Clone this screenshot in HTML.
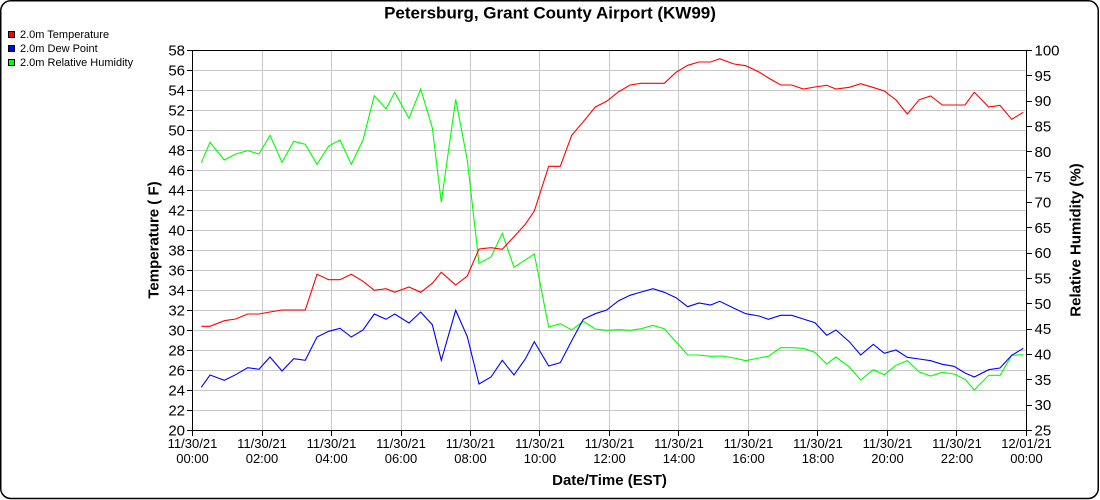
<!DOCTYPE html>
<html><head><meta charset="utf-8"><style>
html,body{margin:0;padding:0;background:#fff;}
svg{display:block;}
text{font-family:"Liberation Sans",Arial,sans-serif;fill:#000;}
</style></head><body>
<svg width="1100" height="500" viewBox="0 0 1100 500" xmlns="http://www.w3.org/2000/svg">
<rect x="0.75" y="0.75" width="1097.5" height="497.75" rx="10" ry="10" fill="#fff" stroke="#000" stroke-width="1.5"/>
<text x="550" y="18.5" font-size="17" font-weight="bold" text-anchor="middle">Petersburg, Grant County Airport (KW99)</text>
<!-- legend -->
<rect x="8.5" y="31.5" width="6" height="6" fill="#ff0000" stroke="#000" stroke-width="1"/>
<rect x="8.5" y="45.5" width="6" height="6" fill="#0000ff" stroke="#000" stroke-width="1"/>
<rect x="8.5" y="59.5" width="6" height="6" fill="#00ff00" stroke="#000" stroke-width="1"/>
<text x="20" y="38" font-size="11">2.0m Temperature</text>
<text x="20" y="52" font-size="11">2.0m Dew Point</text>
<text x="20" y="66" font-size="11">2.0m Relative Humidity</text>
<!-- grid -->
<g stroke="#c8c8c8" stroke-width="1">
<path d="M192.5 70.5H1026.5M192.5 90.5H1026.5M192.5 110.5H1026.5M192.5 130.5H1026.5M192.5 150.5H1026.5M192.5 170.5H1026.5M192.5 190.5H1026.5M192.5 210.5H1026.5M192.5 230.5H1026.5M192.5 250.5H1026.5M192.5 270.5H1026.5M192.5 290.5H1026.5M192.5 310.5H1026.5M192.5 330.5H1026.5M192.5 350.5H1026.5M192.5 370.5H1026.5M192.5 390.5H1026.5M192.5 410.5H1026.5"/>
<path d="M262.5 50.5V430.5M331.5 50.5V430.5M401.5 50.5V430.5M470.5 50.5V430.5M539.5 50.5V430.5M609.5 50.5V430.5M678.5 50.5V430.5M748.5 50.5V430.5M817.5 50.5V430.5M887.5 50.5V430.5M956.5 50.5V430.5"/>
</g>
<!-- series -->
<g fill="none" stroke-width="1.1" stroke-linejoin="miter">
<polyline stroke="#00ff00" points="201.3,162.7 210,142.3 224.3,160 235.7,154 247.7,150.7 259,154 270,135.3 282,162.3 293.7,141.3 305.3,144.3 317,164.3 328.7,146 340,140 351.3,164.3 363,140 374.3,95.7 386,109 394.7,92.3 409,118.3 420.7,89 432.3,127.7 441.3,202.3 455.7,99.3 467.3,160 479,263.3 491,257 502.3,233.3 514,267.3 534.3,254 548.7,327 560.3,323.7 571.7,330 583.3,321.3 595.3,329 606.7,330.3 618.3,329.7 630,330.3 641.3,328.7 653,325.3 664.3,328.7 687.7,355 699,355 710.7,356.3 722.3,356 734,358 745.7,360.7 759,358 768.3,356.3 780.7,347.7 791.7,347.7 803.3,348.3 815,352.3 826.7,364 836,357 849.3,367 860.7,380 873.3,369.7 884.3,374.7 896,365.3 907.3,360.7 919.3,372 930.7,376 942.3,372.3 954,374 965,379.3 974.3,390 988.7,375.3 1000,375.3 1011.7,355.3 1023.3,354.7"/>
<polyline stroke="#0000ff" points="201.3,387.3 210,375 224.3,380.3 235.7,374.7 247.7,367.7 259,369.3 270,357 282,371 293.7,358.7 305.3,360.3 317,337 328.7,331.3 340,328.3 351.3,337 363,330 374.3,314 386,319.3 394.7,314 409,323 420.7,312 432.3,324.7 441.3,360.3 455.7,310.3 467.3,336.7 479,384 491,377 502.3,360.3 514,375 525.3,359 534.3,341.7 548.7,366 560.3,362.7 571.7,340.7 583.3,319.3 595.3,313.7 606.7,310 618.3,301 630,295.3 641.3,292 653,288.7 664.3,292.3 676,297.7 687.7,306.7 699,303 710.7,305 719.7,301.3 734,308.3 745.7,313.7 759,316 768.3,319.3 780.7,315.3 791.7,315.3 803.3,319 815,322.7 826.7,335.3 836,330 849.3,341.7 860.7,355 873.3,344.3 884.3,353.3 896,350 907.3,357.3 919.3,359 930.7,360.7 942.3,364.3 954,366.3 965,373 974.3,377 988.7,369.7 1000,368 1011.7,355.3 1023.3,348.3"/>
<polyline stroke="#ff0000" points="201.3,326.3 210,326.3 224.3,320.7 235.7,319 247.7,314 259,314 270,312 282,310 293.7,310 305.3,310 317,274.3 328.7,279.7 340,279.7 351.3,274.3 363,281.3 374.3,290.3 386,288.7 394.7,292.3 409,287 420.7,292.3 432.3,283.3 441.3,272.3 455.7,285 467.3,276 479,249 491,247.7 502.3,249.3 514,236.7 525.3,224.3 534.3,211 548.7,166.3 560.3,166.3 571.7,135.3 583.3,121.7 595.3,107 606.7,101.3 618.3,92 630,85 641.3,83.3 653,83.3 664.3,83.3 676,72.3 687.7,65.3 699,62 710.7,62 719.7,58.7 734,64 745.7,65.7 759,72 768.5,78 780.7,85 791.7,85 803.3,89 815,87 826.7,85.3 836,89 849.3,87.3 860.7,83.7 872.7,87.3 884.3,91 896,100 907.3,114 919.3,99.7 930.7,96 942.3,105 954,105 965,105 974.3,92.3 988.7,107 1000,105.3 1011.7,119.3 1023.3,112.3"/>
</g>
<!-- axes -->
<g stroke="#000" stroke-width="1" fill="none">
<rect x="192.5" y="50.5" width="834" height="380"/>
<path d="M187 50.5H192.5M187 70.5H192.5M187 90.5H192.5M187 110.5H192.5M187 130.5H192.5M187 150.5H192.5M187 170.5H192.5M187 190.5H192.5M187 210.5H192.5M187 230.5H192.5M187 250.5H192.5M187 270.5H192.5M187 290.5H192.5M187 310.5H192.5M187 330.5H192.5M187 350.5H192.5M187 370.5H192.5M187 390.5H192.5M187 410.5H192.5M187 430.5H192.5"/>
<path d="M1026.5 50.5H1032M1026.5 75.5H1032M1026.5 101.5H1032M1026.5 126.5H1032M1026.5 151.5H1032M1026.5 177.5H1032M1026.5 202.5H1032M1026.5 227.5H1032M1026.5 253.5H1032M1026.5 278.5H1032M1026.5 303.5H1032M1026.5 329.5H1032M1026.5 354.5H1032M1026.5 379.5H1032M1026.5 405.5H1032M1026.5 430.5H1032"/>
<path d="M192.5 430.5V436M262.5 430.5V436M331.5 430.5V436M401.5 430.5V436M470.5 430.5V436M539.5 430.5V436M609.5 430.5V436M678.5 430.5V436M748.5 430.5V436M817.5 430.5V436M887.5 430.5V436M956.5 430.5V436M1026.5 430.5V436"/>
</g>
<!-- left labels -->
<g font-size="15" text-anchor="end">
<text x="185" y="55.5">58</text><text x="185" y="75.5">56</text><text x="185" y="95.5">54</text><text x="185" y="115.5">52</text><text x="185" y="135.5">50</text><text x="185" y="155.5">48</text><text x="185" y="175.5">46</text><text x="185" y="195.5">44</text><text x="185" y="215.5">42</text><text x="185" y="235.5">40</text><text x="185" y="255.5">38</text><text x="185" y="275.5">36</text><text x="185" y="295.5">34</text><text x="185" y="315.5">32</text><text x="185" y="335.5">30</text><text x="185" y="355.5">28</text><text x="185" y="375.5">26</text><text x="185" y="395.5">24</text><text x="185" y="415.5">22</text><text x="185" y="435.5">20</text>
</g>
<!-- right labels -->
<g font-size="15" text-anchor="start">
<text x="1034.5" y="55.5">100</text><text x="1034.5" y="80.8">95</text><text x="1034.5" y="106.2">90</text><text x="1034.5" y="131.5">85</text><text x="1034.5" y="156.8">80</text><text x="1034.5" y="182.2">75</text><text x="1034.5" y="207.5">70</text><text x="1034.5" y="232.8">65</text><text x="1034.5" y="258.2">60</text><text x="1034.5" y="283.5">55</text><text x="1034.5" y="308.8">50</text><text x="1034.5" y="334.2">45</text><text x="1034.5" y="359.5">40</text><text x="1034.5" y="384.8">35</text><text x="1034.5" y="410.2">30</text><text x="1034.5" y="435.5">25</text>
</g>
<!-- x labels -->
<g font-size="13" text-anchor="middle">
<text x="192.5" y="448">11/30/21</text><text x="192.5" y="463">00:00</text>
<text x="262" y="448">11/30/21</text><text x="262" y="463">02:00</text>
<text x="331.5" y="448">11/30/21</text><text x="331.5" y="463">04:00</text>
<text x="401" y="448">11/30/21</text><text x="401" y="463">06:00</text>
<text x="470.5" y="448">11/30/21</text><text x="470.5" y="463">08:00</text>
<text x="540" y="448">11/30/21</text><text x="540" y="463">10:00</text>
<text x="609.5" y="448">11/30/21</text><text x="609.5" y="463">12:00</text>
<text x="679" y="448">11/30/21</text><text x="679" y="463">14:00</text>
<text x="748.5" y="448">11/30/21</text><text x="748.5" y="463">16:00</text>
<text x="818" y="448">11/30/21</text><text x="818" y="463">18:00</text>
<text x="887.5" y="448">11/30/21</text><text x="887.5" y="463">20:00</text>
<text x="957" y="448">11/30/21</text><text x="957" y="463">22:00</text>
<text x="1026.5" y="448">12/01/21</text><text x="1026.5" y="463">00:00</text>
</g>
<!-- axis titles -->
<text x="609.5" y="485" font-size="15" font-weight="bold" text-anchor="middle">Date/Time (EST)</text>
<text transform="translate(158.5,240) rotate(-90)" font-size="15" font-weight="bold" text-anchor="middle">Temperature ( F)</text>
<text transform="translate(1080.5,240) rotate(-90)" font-size="15" font-weight="bold" text-anchor="middle">Relative Humidity (%)</text>
</svg>
</body></html>
